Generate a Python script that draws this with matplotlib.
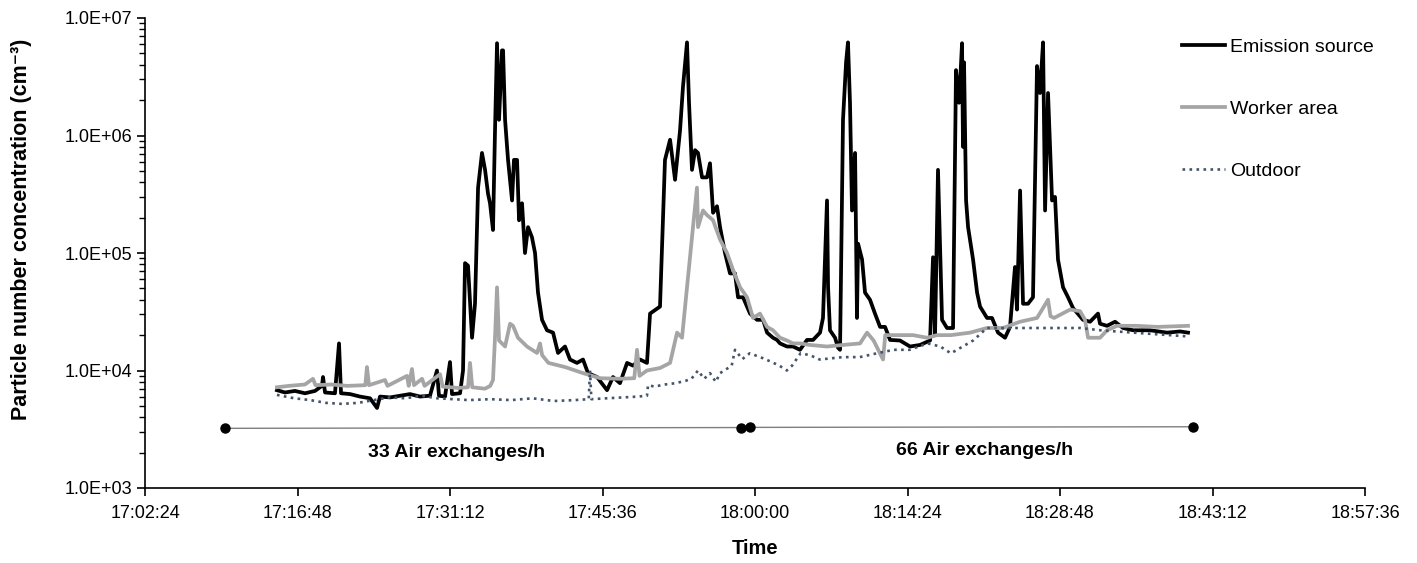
import matplotlib
matplotlib.use('Agg')
import matplotlib.pyplot as plt
from matplotlib.ticker import LogLocator, FixedLocator, FixedFormatter, NullFormatter

plt.rcParams['font.family'] = ['Liberation Sans', 'DejaVu Sans']

# time axis: minutes after 17:00:00
x_tick_labels = ['17:02:24', '17:16:48', '17:31:12', '17:45:36', '18:00:00',
                 '18:14:24', '18:28:48', '18:43:12', '18:57:36']
y_ticks = [1e3, 1e4, 1e5, 1e6, 1e7]
y_tick_labels = ['1.0E+03', '1.0E+04', '1.0E+05', '1.0E+06', '1.0E+07']

# Emission source
em_t = [14.86, 15.62, 16.56, 17.51, 18.45, 19.11, 19.21, 19.40, 20.34, 20.72,
        20.91, 21.76, 22.70, 23.65, 24.31, 24.59, 25.54, 26.48, 27.42, 28.37,
        29.31, 29.97, 30.16, 30.73, 31.20, 31.39, 32.15, 32.43, 32.62, 32.90,
        33.28, 33.56, 33.85, 34.22, 34.51, 34.79, 34.98, 35.26, 35.45, 35.64,
        35.83, 36.11, 36.21, 36.40, 36.68, 37.06, 37.24, 37.53, 37.72, 38.00,
        38.28, 38.57, 38.94, 39.23, 39.51, 39.89, 40.36, 40.93, 41.40, 42.06,
        42.53, 43.19, 43.76, 44.23, 45.08, 46.03, 46.59, 47.25, 47.92, 48.48,
        49.14, 49.80, 50.09, 50.56, 51.03, 51.31, 51.50, 51.98, 52.45, 52.92,
        53.20, 53.58, 53.77, 54.05, 54.34, 54.62, 55.00, 55.47, 55.75, 56.04,
        56.41, 56.70, 57.17, 57.64, 58.11, 58.40, 58.87, 59.53, 60.19, 60.76,
        61.14, 61.70, 62.08, 62.36, 63.02, 63.59, 64.25, 64.91, 65.48, 66.14,
        66.42, 66.80, 66.90, 67.08, 67.56, 67.84, 68.03, 68.31, 68.60, 68.78,
        68.97, 69.16, 69.45, 69.63, 69.73, 70.11, 70.39, 70.86, 71.33, 71.81,
        72.28, 72.75, 73.69, 74.64, 75.58, 76.53, 76.81, 77.00, 77.28, 77.66,
        78.13, 78.70, 78.98, 79.27, 79.55, 79.64, 79.74, 79.93, 80.12, 80.59,
        80.97, 81.25, 81.91, 82.38, 82.95, 83.61, 84.08, 84.55, 84.74, 85.03,
        85.31, 85.78, 86.25, 86.63, 86.91, 87.20, 87.39, 87.67, 88.05, 88.33,
        88.61, 89.09, 89.56, 90.03, 90.97, 91.64, 92.39, 92.58, 93.24, 94.00,
        94.75, 95.70, 97.30, 98.91, 100.14, 100.89]
em_v = [6.8e3, 6.5e3, 6.7e3, 6.4e3, 6.7e3, 7.4e3, 8.8e3, 6.5e3, 6.4e3, 1.7e4,
        6.4e3, 6.3e3, 6.0e3, 5.8e3, 4.8e3, 6.0e3, 5.9e3, 6.1e3, 6.3e3, 6.0e3,
        6.1e3, 1.0e4, 6.1e3, 6.0e3, 1.18e4, 6.3e3, 6.4e3, 1.0e4, 8.2e4, 7.8e4,
        1.9e4, 3.7e4, 3.6e5, 7.1e5, 5.1e5, 3.2e5, 2.65e5, 1.57e5, 1.1e6, 6.1e6,
        1.36e6, 5.3e6, 5.3e6, 1.36e6, 6.2e5, 2.8e5, 6.2e5, 6.2e5, 1.9e5, 2.65e5,
        1.0e5, 1.66e5, 1.36e5, 1.0e5, 4.6e4, 2.7e4, 2.2e4, 2.1e4, 1.41e4, 1.6e4,
        1.24e4, 1.16e4, 1.24e4, 9.5e3, 8.8e3, 6.8e3, 8.8e3, 7.8e3, 1.16e4, 1.1e4,
        1.24e4, 1.16e4, 3.05e4, 3.27e4, 3.5e4, 1.9e5, 6.2e5, 9.2e5, 4.2e5, 1.1e6,
        2.6e6, 6.2e6, 1.9e6, 5.1e5, 7.5e5, 7.1e5, 4.4e5, 4.4e5, 5.8e5, 2.2e5,
        2.5e5, 1.66e5, 1.0e5, 6.7e4, 6.7e4, 4.2e4, 4.2e4, 3.05e4, 2.7e4, 2.7e4,
        2.1e4, 1.9e4, 1.82e4, 1.7e4, 1.6e4, 1.6e4, 1.5e4, 1.82e4, 1.82e4, 2.1e4,
        2.8e4, 2.8e5, 5.1e4, 2.2e4, 1.9e4, 1.56e4, 1.5e4, 1.36e6, 4.2e6, 6.2e6,
        1.9e6, 2.3e5, 7.1e5, 2.8e4, 1.2e5, 8.8e4, 4.6e4, 4.0e4, 3.05e4, 2.35e4,
        2.35e4, 1.82e4, 1.8e4, 1.6e4, 1.65e4, 1.8e4, 9.2e4, 2.0e4, 5.1e5, 2.7e4,
        2.3e4, 2.3e4, 3.6e6, 1.9e6, 6.1e6, 8.0e5, 4.2e6, 2.8e5, 1.66e5, 8.8e4,
        4.6e4, 3.5e4, 2.8e4, 2.8e4, 2.1e4, 1.9e4, 2.35e4, 7.6e4, 3.3e4, 3.4e5,
        3.7e4, 3.7e4, 4.2e4, 3.9e6, 2.3e6, 6.2e6, 2.3e5, 2.3e6, 2.8e5, 3.0e5,
        8.8e4, 5.1e4, 4.2e4, 3.4e4, 2.7e4, 2.6e4, 3.05e4, 2.5e4, 2.4e4, 2.6e4,
        2.3e4, 2.2e4, 2.2e4, 2.1e4, 2.15e4, 2.1e4]

# Worker area
wk_t = [14.86, 16.00, 17.50, 18.26, 18.50, 20.00, 21.50, 23.20, 23.36, 23.55,
        25.06, 25.30, 27.14, 27.30, 27.61, 27.80, 28.56, 28.80, 30.26, 30.50,
        32.00, 32.90, 33.09, 33.30, 34.50, 35.00, 35.26, 35.45, 35.64, 35.83,
        36.40, 36.87, 37.15, 37.62, 38.47, 39.42, 39.70, 39.90, 40.50, 42.06,
        43.76, 45.37, 47.25, 48.60, 48.86, 49.10, 49.80, 51.03, 51.98, 52.64,
        53.11, 53.58, 54.05, 54.52, 54.62, 55.09, 55.47, 56.04, 56.70, 57.36,
        57.92, 58.59, 59.25, 59.81, 60.47, 61.14, 61.70, 62.36, 63.02, 63.59,
        64.25, 65.20, 66.80, 68.31, 69.92, 70.58, 71.20, 72.09, 72.30, 73.69,
        74.92, 76.25, 77.19, 78.50, 80.31, 81.91, 83.42, 85.03, 86.63, 87.67,
        87.90, 88.24, 89.75, 90.69, 91.16, 91.45, 92.58, 93.24, 94.19, 96.00,
        98.00, 100.89]
wk_v = [7.2e3, 7.4e3, 7.6e3, 8.5e3, 7.5e3, 7.6e3, 7.4e3, 7.5e3, 1.07e4, 7.5e3,
        8.3e3, 7.4e3, 9.0e3, 7.4e3, 1.03e4, 7.5e3, 8.5e3, 7.4e3, 9.3e3, 7.3e3,
        7.1e3, 7.2e3, 1.16e4, 7.2e3, 7.0e3, 7.4e3, 8.3e3, 1.9e4, 5.1e4, 1.8e4,
        1.6e4, 2.5e4, 2.4e4, 1.9e4, 1.6e4, 1.41e4, 1.7e4, 1.35e4, 1.16e4, 1.07e4,
        9.5e3, 8.6e3, 8.5e3, 8.6e3, 1.5e4, 9.0e3, 1.0e4, 1.05e4, 1.16e4, 2.1e4,
        1.9e4, 5.1e4, 1.36e5, 3.6e5, 1.66e5, 2.3e5, 2.1e5, 1.9e5, 1.3e5, 1.0e5,
        7.2e4, 5.1e4, 4.2e4, 2.8e4, 3.05e4, 2.35e4, 2.2e4, 1.9e4, 1.8e4, 1.7e4,
        1.7e4, 1.65e4, 1.6e4, 1.65e4, 1.7e4, 2.1e4, 1.8e4, 1.24e4, 2.0e4, 2.0e4,
        2.0e4, 1.9e4, 2.0e4, 2.0e4, 2.1e4, 2.3e4, 2.3e4, 2.6e4, 2.8e4, 4.0e4,
        2.9e4, 2.8e4, 3.3e4, 3.2e4, 2.7e4, 1.9e4, 1.9e4, 2.2e4, 2.4e4, 2.4e4,
        2.35e4, 2.4e4]

# Outdoor
out_t = [14.86, 16.50, 18.00, 19.50, 21.00, 22.50, 24.00, 25.50, 27.00, 28.50,
         30.00, 31.50, 33.00, 35.00, 37.00, 39.00, 41.00, 43.00, 44.30, 44.42,
         44.55, 46.00, 47.50, 49.00, 49.80, 49.90, 50.50, 51.50, 52.50, 53.50,
         54.00, 54.62, 55.20, 55.75, 56.30, 56.70, 57.10, 57.80, 58.11, 58.80,
         59.50, 60.50, 61.40, 62.30, 63.00, 63.50, 64.30, 65.20, 66.10, 68.30,
         69.90, 71.50, 73.10, 74.60, 76.30, 77.50, 78.50, 80.60, 81.90, 85.00,
         88.00, 90.70, 92.60, 95.70, 100.90]
out_v = [6.2e3, 5.8e3, 5.6e3, 5.3e3, 5.2e3, 5.3e3, 5.6e3, 5.9e3, 5.8e3, 6.1e3,
         5.8e3, 5.7e3, 5.6e3, 5.7e3, 5.6e3, 5.8e3, 5.5e3, 5.6e3, 5.7e3, 1.0e4,
         5.7e3, 5.8e3, 5.9e3, 6.0e3, 6.1e3, 7.5e3, 7.3e3, 7.6e3, 7.8e3, 8.2e3,
         8.5e3, 1.0e4, 8.5e3, 9.5e3, 8.0e3, 9.5e3, 1.0e4, 1.1e4, 1.5e4, 1.25e4,
         1.4e4, 1.3e4, 1.2e4, 1.1e4, 1.0e4, 1.1e4, 1.4e4, 1.35e4, 1.24e4, 1.3e4,
         1.3e4, 1.4e4, 1.5e4, 1.5e4, 1.7e4, 1.6e4, 1.4e4, 1.8e4, 2.3e4, 2.3e4,
         2.3e4, 2.3e4, 2.2e4, 2.1e4, 1.95e4]

# ventilation periods (start/end times and level of the marker line)
ae33_t = [9.95, 58.7]
ae33_v = [3.22e3, 3.27e3]
ae66_t = [59.5, 101.4]
ae66_v = [3.28e3, 3.32e3]


def to_min(s):
    h, m, sec = map(int, s.split(':'))
    return (h - 17) * 60 + m + sec / 60


x_ticks = [to_min(s) for s in x_tick_labels]

fig = plt.figure(figsize=(14.17, 5.63), dpi=100)
ax = fig.add_axes([145 / 1417, 75 / 563, 1220 / 1417, 470 / 563])

ax.plot(em_t, em_v, color='black', lw=2.7, label='Emission source')
ax.plot(wk_t, wk_v, color='#A5A5A5', lw=2.7, label='Worker area')
ax.plot(out_t, out_v, color='#44546A', lw=1.9, ls=':', label='Outdoor')

for t, v in [(ae33_t, ae33_v), (ae66_t, ae66_v)]:
    ax.plot(t, v, color='#7f7f7f', lw=1.0, marker='o', ms=6.5,
            mfc='black', mec='black')

ax.text(31.8, 2.02e3, '33 Air exchanges/h', fontsize=14, fontweight='bold',
        ha='center', va='center')
ax.text(81.7, 2.1e3, '66 Air exchanges/h', fontsize=14, fontweight='bold',
        ha='center', va='center')

ax.set_yscale('log')
ax.set_ylim(1e3, 1e7)
ax.set_xlim(x_ticks[0], x_ticks[-1])
ax.yaxis.set_major_locator(FixedLocator(y_ticks))
ax.yaxis.set_major_formatter(FixedFormatter(y_tick_labels))
ax.yaxis.set_minor_locator(LogLocator(base=10, subs=range(2, 10)))
ax.yaxis.set_minor_formatter(NullFormatter())
ax.set_xticks(x_ticks)
ax.set_xticklabels(x_tick_labels)

ax.spines['top'].set_visible(False)
ax.spines['right'].set_visible(False)
for sp in ['left', 'bottom']:
    ax.spines[sp].set_linewidth(1.2)
ax.tick_params(which='major', direction='out', length=6, width=1.2, labelsize=13)
ax.tick_params(axis='y', which='major', pad=3)
ax.tick_params(axis='x', which='major', pad=6)
ax.tick_params(which='minor', direction='out', length=4, width=1.0)

ax.set_xlabel('Time', fontsize=14.5, fontweight='bold')
ax.xaxis.set_label_coords(0.5, -0.108)
ax.set_ylabel('Particle number concentration (cm⁻³)', fontsize=15.5,
              fontweight='bold')
ax.yaxis.set_label_coords(-0.093, 0.55)

ax.legend(loc='upper left', bbox_to_anchor=(1182 / 1417, 1 - 38 / 563),
          bbox_transform=fig.transFigure, frameon=False, fontsize=14,
          handlelength=2.2, handletextpad=0.25, labelspacing=2.3,
          borderaxespad=0, borderpad=0)

fig.savefig('out.png', dpi=100)
